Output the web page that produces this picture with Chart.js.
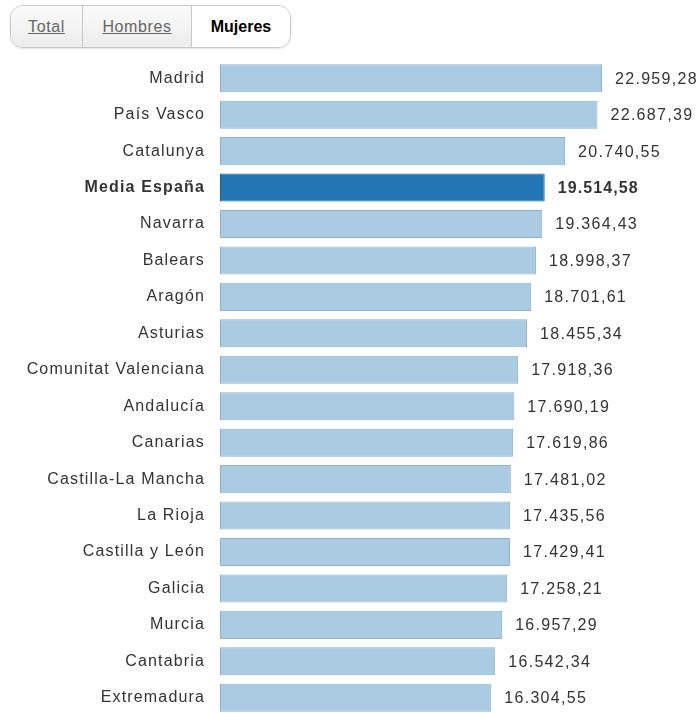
<!DOCTYPE html>
<html>
<head>
<meta charset="utf-8">
<script src="https://cdn.jsdelivr.net/npm/chart.js@4"></script>
<style>
html,body{margin:0;padding:0;background:#fff;overflow:hidden;width:700px;height:713px;}
.btns{position:absolute;left:10px;top:5px;height:41px;display:flex;border:1px solid #c8c8c8;border-radius:13px;overflow:hidden;box-shadow:0 1px 2px rgba(0,0,0,0.12);}
.btns div{height:41px;line-height:41px;font-family:"Liberation Sans",Arial,sans-serif;font-size:16px;letter-spacing:0.6px;color:#666;text-align:center;
 background:linear-gradient(#fbfbfb,#ececec);}
.btns div span{text-decoration:underline;}
.btns .b1{width:71px;border-right:1px solid #c8c8c8;}
.btns .b2{width:108px;border-right:1px solid #c8c8c8;}
.btns .b3{width:98px;background:#fff;color:#000;font-weight:bold;letter-spacing:0;}
#wrap{position:absolute;left:0;top:60px;width:700px;height:656px;}
</style>
</head>
<body>
<div class="btns"><div class="b1"><span>Total</span></div><div class="b2"><span>Hombres</span></div><div class="b3">Mujeres</div></div>
<div id="wrap"><canvas id="c"></canvas></div>
<script>
const categories = ["Madrid","País Vasco","Catalunya","Media España","Navarra","Balears","Aragón","Asturias","Comunitat Valenciana","Andalucía","Canarias","Castilla-La Mancha","La Rioja","Castilla y León","Galicia","Murcia","Cantabria","Extremadura"];
const values = [22959.28,22687.39,20740.55,19514.58,19364.43,18998.37,18701.61,18455.34,17918.36,17690.19,17619.86,17481.02,17435.56,17429.41,17258.21,16957.29,16542.34,16304.55];
const highlightIndex = 3;

const fmt = v => {
  const parts = v.toFixed(2).split('.');
  return parts[0].replace(/\B(?=(\d{3})+(?!\d))/g, '.') + ',' + parts[1];
};
const FONT = '"Liberation Sans", Arial, sans-serif';

const spacingPlugin = {
  id: 'spacing',
  beforeDraw(chart){ chart.ctx.letterSpacing = '1.15px'; }
};
const valueLabels = {
  id: 'valueLabels',
  afterDatasetsDraw(chart){
    const ctx = chart.ctx;
    const meta = chart.getDatasetMeta(0);
    ctx.save();
    ctx.textBaseline = 'middle';
    ctx.textAlign = 'left';
    meta.data.forEach((bar, i) => {
      const bold = i === highlightIndex;
      ctx.font = (bold ? 'bold ' : '') + '16px ' + FONT;
      ctx.fillStyle = '#333';
      ctx.letterSpacing = bold ? '1.1px' : '1.3px';
      ctx.fillText(fmt(values[i]), bar.x + 13, bar.y + 1);
    });
    ctx.restore();
  }
};

new Chart(document.getElementById('c'), {
  type: 'bar',
  data: {
    labels: categories,
    datasets: [{
      data: values,
      backgroundColor: categories.map((c,i) => i === highlightIndex ? '#2176b3' : '#abcbe3'),
      borderColor: categories.map((c,i) => i === highlightIndex ? '#1a5f94' : '#8cb2d0'),
      borderWidth: 1,
      borderSkipped: false,
      barPercentage: 0.77,
      categoryPercentage: 1
    }]
  },
  options: {
    indexAxis: 'y',
    responsive: true,
    maintainAspectRatio: false,
    animation: false,
    layout: { padding: { right: 10 } },
    plugins: { legend: { display: false }, tooltip: { enabled: false } },
    scales: {
      x: { display: false, min: 0, max: 28248 },
      y: {
        grid: { display: false, drawTicks: false },
        border: { display: false },
        afterFit(scale){ scale.width = 220; scale.paddingTop = 0; scale.paddingBottom = 0; },
        ticks: {
          padding: 15,
          color: '#333',
          font: ctx => ({ family: FONT, size: 16, weight: ctx.index === highlightIndex ? 'bold' : 'normal' })
        }
      }
    }
  },
  plugins: [spacingPlugin, valueLabels]
});
</script>
</body>
</html>
